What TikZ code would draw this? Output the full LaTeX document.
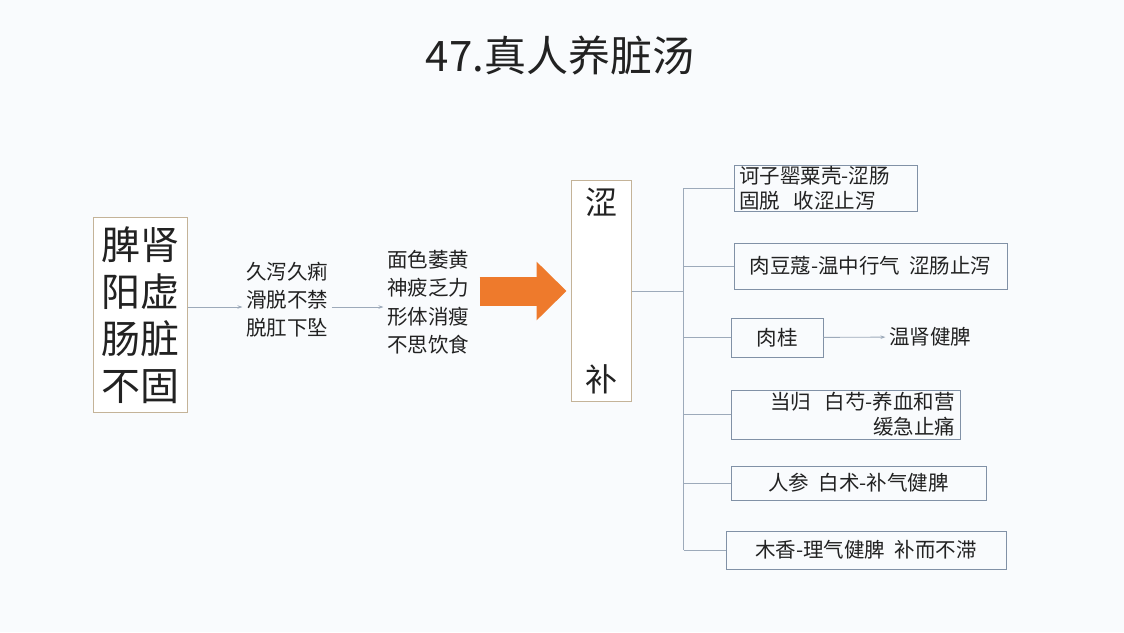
\documentclass[tikz,border=0pt]{standalone}
\usepackage{fontspec}
\setmainfont{Noto Sans CJK SC}
\usepackage{tikz}
\usetikzlibrary{arrows.meta}
\usetikzlibrary{calc}

\definecolor{bgpaper}{HTML}{F9FBFD}
\definecolor{tanline}{HTML}{C4B398}
\definecolor{boxline}{HTML}{8191A6}
\definecolor{linkline}{HTML}{9DAABA}
\definecolor{bigarrow}{HTML}{EE7A2C}
\definecolor{ink}{HTML}{222222}

\begin{document}
\begin{tikzpicture}[x=1pt,y=-1pt,
        every node/.style={text=ink},
        tanbox/.style={draw=tanline,line width=1pt,fill=white,inner sep=0pt},
        herb/.style={draw=boxline,line width=0.9pt,inner sep=0pt,font=\fontsize{20.5}{25}\selectfont},
        link/.style={draw=linkline,line width=0.9pt},
        tip/.style={-{Stealth[length=5pt,width=3.5pt]}}]
                    \fill[bgpaper] (0,0) rectangle (1124,632);
                    \useasboundingbox (0,0) rectangle (1124,632);

                    \node[font=\fontsize{42}{46}\selectfont] (title) at (560,55) {47.真人养脏汤};

                    \node[tanbox,minimum width=94,minimum height=195,align=center,font=\fontsize{39}{47}\selectfont] (cause) at (140,315) {脾肾\\阳虚\\肠脏\\不固};
                    \node[align=center,font=\fontsize{20.5}{28}\selectfont] (sign) at (287,300) {久泻久痢\\滑脱不禁\\脱肛下坠};
                    \node[align=center,font=\fontsize{20.5}{28.5}\selectfont] (look) at (428,302) {面色萎黄\\神疲乏力\\形体消瘦\\不思饮食};
                    \node[tanbox,minimum width=60,minimum height=221,align=center,font=\fontsize{32}{177}\selectfont] (sebu) at (601,291) {涩\\补};

                    \coordinate (mid) at ($(cause.east)+(0,-8)$);
                    \draw[link,tip] (mid) -- (mid -| sign.west);
                    \draw[link,tip] (mid -| sign.east) -- (mid -| look.west);
                    \draw[bigarrow,line width=29pt,-{Triangle[length=30pt,width=57pt]},shorten <=7pt,shorten >=4pt] (look.east |- sebu.west) -- (sebu.west);

                    \node[herb,minimum width=183,minimum height=46,text width=173,align=left] (hezi) at (825.5,188) {诃子罂粟壳-涩肠\\固脱\ \ 收涩止泻};
                    \node[herb,minimum width=273,minimum height=46] (roudou) at (870.5,266) {肉豆蔻-温中行气\ \ 涩肠止泻};
                    \node[herb,minimum width=92,minimum height=39] (rougui) at (777,337.5) {肉桂};
                    \node[font=\fontsize{20.5}{25}\selectfont] (warm) at (930,337) {温肾健脾};
                    \node[herb,minimum width=229,minimum height=49,text width=219,align=right] (danggui) at (845.5,414.5) {当归\ \ 白芍-养血和营\\缓急止痛};
                    \node[herb,minimum width=255,minimum height=34] (renshen) at (858.5,483) {人参\ \ 白术-补气健脾};
                    \node[herb,minimum width=280,minimum height=38] (muxiang) at (866,550) {木香-理气健脾\ \ 补而不滞};

                    \draw[link] (sebu.east) -- ++(52,0) coordinate (fork);
                    \draw[link] (fork |- hezi.west) -- (fork |- muxiang.west);
                    \foreach \b in {hezi,roudou,rougui,danggui,renshen,muxiang}
                        \draw[link] (fork |- \b.west) -- (\b.west);
                    \draw[link,tip] (rougui) -- (warm);
                \end{tikzpicture}
\end{document}
